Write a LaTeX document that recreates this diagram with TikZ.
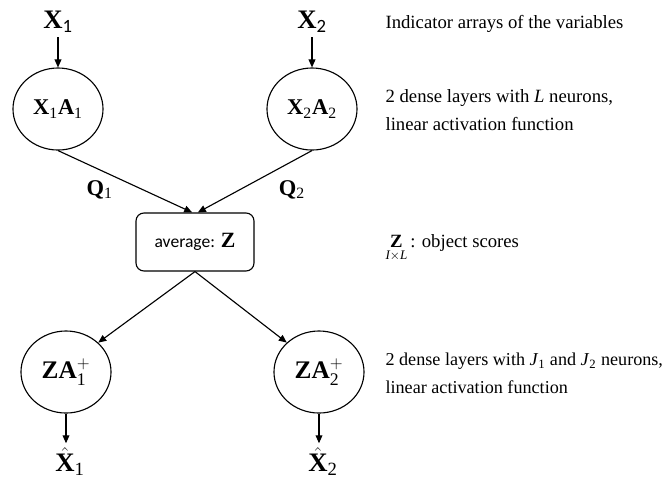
\documentclass[tikz,border=0pt]{standalone}
\usepackage{amsmath}
\usepackage{fontspec}
\setmainfont{Liberation Serif}
\setsansfont{Carlito}
\usetikzlibrary{shapes.geometric,arrows.meta}

\begin{document}
\begin{tikzpicture}[x=0.025cm,y=-0.025cm,
            >={Triangle[length=2mm,width=1.7mm]},
            line width=0.8pt,
            unit/.style={shape=ellipse, draw, minimum width=2.25cm, minimum height=2.05cm, inner sep=0pt, font=\fontsize{16}{18}\selectfont},
            box/.style={draw, rounded corners=0.2cm, minimum width=2.95cm, minimum height=1.45cm, font=\fontsize{12.5}{14}\selectfont},
            var/.style={inner sep=3pt, font=\fontsize{19}{22}\selectfont},
            wt/.style={inner sep=3pt, font=\fontsize{16}{18}\selectfont},
            note/.style={anchor=base west, align=left, inner sep=0pt, font=\fontsize{13.3}{19.5}\selectfont}]
        \useasboundingbox (0,0) rectangle (669,483);

        % inputs and encoders
        \node[var] (x1) at (58,22) {\textbf{X}\textsubscript{\sffamily 1}};
        \node[var] (x2) at (312,22) {\textbf{X}\textsubscript{\sffamily 2}};
        \node[unit] (enc1) at (58,109) {$\mathbf{X}_{\mathrm{1}}\mathbf{A}_{\mathrm{1}}$};
        \node[unit] (enc2) at (312,109) {$\mathbf{X}_{\mathrm{2}}\mathbf{A}_{\mathrm{2}}$};
        \draw[->] (x1.south) -- (enc1.north);
        \draw[->] (x2.south) -- (enc2.north);

        % object scores
        \node[box] (avg) at (195,242) {\textsf{average:} {\fontsize{15.5}{16}\selectfont\textbf{Z}}};
        \draw[->] (enc1.south) -- node[wt, pos=0.31, below=4pt] {$\mathbf{Q}_{\mathrm{1}}$} ([xshift=-2pt]avg.north);
        \draw[->] (enc2.south) -- node[wt, pos=0.175, below=10pt] {$\mathbf{Q}_{\mathrm{2}}$} ([xshift=2pt]avg.north);

        % decoders and outputs
        \node[unit] (dec1) at (66,372) {\fontsize{18}{20}\selectfont$\mathbf{ZA}_{\mathrm{1}}^{+}$};
        \node[unit] (dec2) at (319,372) {\fontsize{18}{20}\selectfont$\mathbf{ZA}_{\mathrm{2}}^{+}$};
        \draw[->] (avg.south) -- (dec1.north east);
        \draw[->] (avg.south) -- (dec2.north west);
        \node[var] (xh1) at (70,462) {$\hat{\mathbf{X}}_{\mathrm{1}}$};
        \node[var] (xh2) at (323,462) {$\hat{\mathbf{X}}_{\mathrm{2}}$};
        \draw[->] (dec1.south) -- (dec1.south |- xh1.north);
        \draw[->] (dec2.south) -- (dec2.south |- xh2.north);

        % notes
        \node[note] (n1) at (385,28) {Indicator arrays of the variables};
        \node[note] (n2) at (385,130) {2 dense layers with \textit{L} neurons,\\linear activation function};
        \node[note] (n3) at (385,247) {$\underset{\mathit{I}\times\mathit{L}}{\mathbf{Z}}$\,: object scores};
        \node[note, font=\fontsize{12.9}{19.5}\selectfont] (n4) at (385,393) {2 dense layers with \textit{J}\textsubscript{1} and \textit{J}\textsubscript{2} neurons,\\linear activation function};
\end{tikzpicture}
\end{document}
